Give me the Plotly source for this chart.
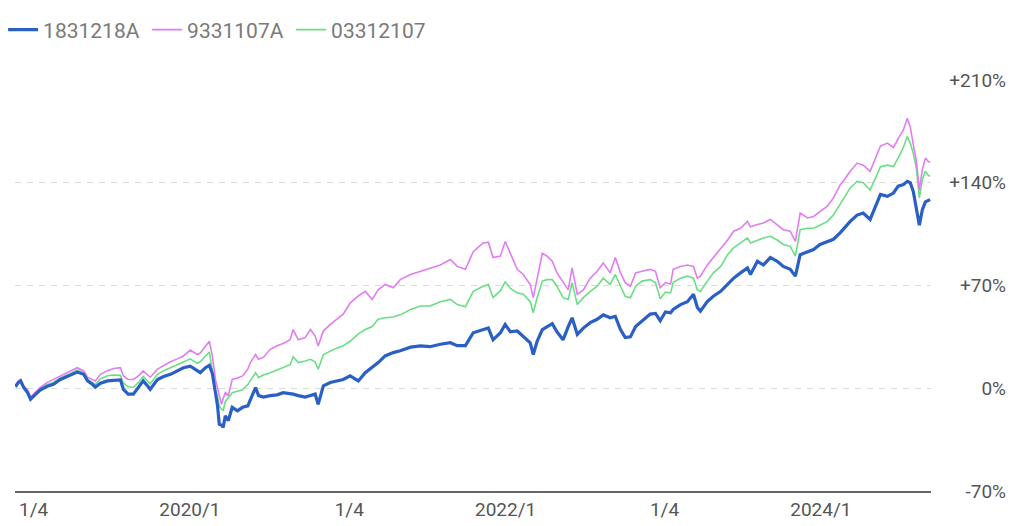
import plotly.graph_objects as go

dates = [
    "2018-11-23", "2018-11-30", "2018-12-05", "2018-12-12", "2018-12-21", "2018-12-28",
    "2019-01-09", "2019-01-20", "2019-02-05", "2019-02-19", "2019-03-07", "2019-03-19",
    "2019-03-31", "2019-04-15", "2019-04-30", "2019-05-09", "2019-05-20", "2019-05-27",
    "2019-06-08", "2019-06-24", "2019-07-08", "2019-07-24", "2019-07-31", "2019-08-11",
    "2019-08-23", "2019-09-04", "2019-09-15", "2019-09-25", "2019-10-01", "2019-10-18",
    "2019-11-01", "2019-11-17", "2019-12-03", "2019-12-17", "2020-01-02", "2020-01-18",
    "2020-01-25", "2020-02-06", "2020-02-15", "2020-02-22", "2020-02-29", "2020-03-05",
    "2020-03-09", "2020-03-14", "2020-03-18", "2020-03-23", "2020-03-30", "2020-04-08",
    "2020-04-20", "2020-05-02", "2020-05-14", "2020-05-20", "2020-06-01", "2020-06-08",
    "2020-06-19", "2020-07-05", "2020-07-21", "2020-08-04", "2020-08-20", "2020-08-27",
    "2020-09-08", "2020-09-24", "2020-10-06", "2020-10-17", "2020-10-24", "2020-11-05",
    "2020-11-21", "2020-12-07", "2020-12-21", "2021-01-06", "2021-01-25", "2021-02-10",
    "2021-02-26", "2021-03-12", "2021-03-28", "2021-04-16", "2021-05-02", "2021-05-26",
    "2021-06-18", "2021-07-10", "2021-08-03", "2021-08-26", "2021-09-11", "2021-09-30",
    "2021-10-18", "2021-11-10", "2021-11-22", "2021-12-03", "2021-12-20", "2021-12-31",
    "2022-01-12", "2022-01-28", "2022-02-11", "2022-02-27", "2022-03-06", "2022-03-15",
    "2022-03-27", "2022-04-07", "2022-04-19", "2022-04-30", "2022-05-14", "2022-05-26",
    "2022-06-04", "2022-06-16", "2022-06-30", "2022-07-16", "2022-08-01", "2022-08-15",
    "2022-08-31", "2022-09-12", "2022-09-24", "2022-10-05", "2022-10-17", "2022-10-29",
    "2022-11-13", "2022-12-02", "2022-12-14", "2022-12-25", "2023-01-06", "2023-01-18",
    "2023-01-24", "2023-02-10", "2023-02-26", "2023-03-12", "2023-03-21", "2023-03-28",
    "2023-04-13", "2023-04-27", "2023-05-14", "2023-05-30", "2023-06-13", "2023-06-29",
    "2023-07-15", "2023-07-22", "2023-08-07", "2023-08-21", "2023-09-06", "2023-09-22",
    "2023-10-06", "2023-10-22", "2023-11-03", "2023-11-14", "2023-12-01", "2023-12-15",
    "2023-12-30", "2024-01-16", "2024-01-30", "2024-02-15", "2024-02-27", "2024-03-09",
    "2024-03-25", "2024-04-08", "2024-04-24", "2024-05-06", "2024-05-18", "2024-06-03",
    "2024-06-17", "2024-06-28", "2024-07-10", "2024-07-19", "2024-07-26", "2024-08-02",
    "2024-08-09", "2024-08-16", "2024-08-23", "2024-08-30", "2024-09-06", "2024-09-10",
]

fund_1831218A = [
    1, 4, 5, 0.5, -3, -7.5,
    -4, -1, 1.4, 2.7, 6, 7.5,
    9, 11, 9.5, 5, 2.7, 0.7,
    3.4, 5, 5.4, 5.7, -0.7, -4,
    -4, 0.7, 5, 1.6, -0.7, 6,
    8, 9.5, 11.8, 14, 15, 12,
    10.6, 14, 15.6, 10, -3, -12,
    -24.5, -25, -26.7, -18.8, -22, -13,
    -15.4, -13, -12, -7.5, 0.5, -5,
    -6, -5, -4.5, -3, -3.4, -4,
    -5, -6, -5, -4, -11, 1.6,
    3.9, 5, 6, 8.4, 5, 10.6,
    14, 17.5, 22, 24.3, 25.5, 28,
    28.8, 28.3, 30, 31, 29, 29,
    37.8, 40, 41, 33, 37.8, 43.5,
    38.5, 39, 35.5, 31, 23, 32,
    40, 42, 44, 38.5, 33, 42,
    48, 36.7, 41, 44.7, 47, 50,
    48, 49, 40, 34.5, 35, 42,
    46, 50.5, 51, 46, 52, 51.4,
    53.7, 57, 59, 64, 55, 52.5,
    59, 62.7, 66, 70.7, 75, 78.6,
    82, 77.5, 86.5, 84, 89, 86.5,
    83, 81, 76.4, 91, 93, 94.5,
    98, 100, 101.5, 106, 110, 113.7,
    118, 119.4, 115, 124, 132, 130.7,
    133, 137.7, 138.7, 141, 140, 134,
    122, 111, 121.7, 127, 128, 128.5,
]

fund_9331107A = [
    2, 5, 6, 1.5, -1, -6,
    -2.5, 0.7, 4, 6, 8, 10,
    11.8, 14, 11.8, 7.5, 6, 5,
    9.5, 12, 13.5, 14, 8.4, 6,
    6, 8.4, 11.8, 9, 7.5, 13,
    15.5, 18, 20, 22, 26, 23,
    24, 28.8, 32, 22, 6, 0,
    -5, -11, -7, -3, -5, 6,
    7, 8.4, 13, 17.5, 23, 19.7,
    21, 26.5, 29, 30.5, 33, 40,
    33, 34.5, 40, 35.5, 28.8, 39,
    43.5, 47, 50.5, 58, 63, 66,
    60.5, 67, 70.7, 68.5, 74, 77.5,
    79.7, 82, 84, 87.7, 83, 81,
    93, 99, 99.5, 89, 90, 100,
    92, 81, 77.5, 70.7, 61.7, 74,
    92, 90, 86.5, 78.6, 71.9, 67,
    82, 64, 67, 75, 79.7, 85.4,
    78.6, 89, 78.6, 71.9, 69.5, 78.6,
    79.7, 81, 79.7, 68.5, 72, 71,
    81, 83, 84, 83, 75, 76.4,
    84, 89, 94.5, 101, 107, 109,
    113.7, 110, 111.5, 112.6, 115, 111.5,
    108, 107, 100, 119.4, 116, 117,
    120, 124, 129.6, 138.7, 143.3, 147.8,
    153.4, 152, 147.8, 156.8, 165, 167,
    164, 170, 176, 184, 178, 166,
    155, 135, 149, 156.8, 154.5, 154,
]

fund_03312107 = [
    1.5, 4.5, 5.5, 1, -2, -7,
    -3, 0, 2.5, 4, 7, 8.5,
    10, 12.5, 10.5, 6, 4, 2.5,
    6.5, 8.5, 9, 8.8, 3.5, 1,
    0.5, 4, 8, 5, 3, 9.5,
    12, 14, 16, 17.5, 20, 17,
    18, 22, 24.7, 12, -2, -6,
    -12, -14, -15.4, -9, -6, -3,
    -2, -1, 2.5, 5, 10.6, 7.3,
    9, 10.6, 12.5, 14, 16, 21.5,
    17.5, 18.5, 19.7, 18, 13, 23,
    25.5, 27.5, 29, 32, 37, 40,
    42, 47, 48, 48.5, 50, 53.7,
    56, 56, 59, 60.5, 57, 55.5,
    66, 69.5, 70.7, 61.7, 66.5, 72.5,
    68, 65, 64, 59, 51.4, 61.7,
    73, 74, 74, 69.5, 61.7, 60.5,
    72, 57, 61.7, 66, 69.5, 75,
    70.7, 77.5, 69.5, 62.7, 61.7, 69.5,
    73, 74, 72, 61, 65.5, 65,
    72, 75, 76.4, 75, 67, 66,
    73, 78.6, 83, 91, 95.6, 99,
    102.4, 99, 101, 102.4, 103.5, 101,
    98, 96.7, 90, 108, 109, 109,
    111, 113.7, 118, 126, 132, 136.5,
    141, 140, 135, 143.3, 151, 152,
    151, 157, 164, 171.5, 167, 160,
    150, 129.6, 142, 147.8, 145, 144.4,
]

x_tick_dates = ["2019-01-04", "2020-01-01", "2021-01-04", "2022-01-01", "2023-01-04", "2024-01-01"]
x_tick_text = ["1/4", "2020/1", "1/4", "2022/1", "1/4", "2024/1"]
y_tick_vals = [-70, 0, 70, 140, 210]
y_tick_text = ["-70%", "0%", "+70%", "+140%", "+210%"]

series = [
    ("03312107", fund_03312107, "#6ade84", 1.6, 3),
    ("9331107A", fund_9331107A, "#e27cf3", 1.6, 2),
    ("1831218A", fund_1831218A, "#2a5fc4", 3.2, 1),
]

fig = go.Figure()
for name, vals, color, w, rank in series:
    fig.add_trace(go.Scatter(
        x=dates, y=vals, name=name, mode="lines",
        line=dict(color=color, width=w),
        legendrank=rank,
    ))

W, H = 1024, 526
ml, mr, mt, mb = 15, 18, 80, 35
plot_w = W - ml - mr
plot_h = H - mt - mb
right_px = 931

fig.update_layout(
    width=W, height=H,
    margin=dict(l=ml, r=mr, t=mt, b=mb, autoexpand=False),
    paper_bgcolor="white", plot_bgcolor="white",
    font=dict(family="Roboto, 'Noto Sans', sans-serif", color="#555555", size=19),
    showlegend=True,
    legend=dict(
        orientation="h", x=-0.012, xanchor="left",
        y=1 + 50 / plot_h, yanchor="middle",
        font=dict(size=21, color="#7a7a7a"),
        entrywidth=99, bgcolor="rgba(0,0,0,0)",
    ),
    xaxis=dict(
        type="date",
        domain=[0, (right_px - ml) / plot_w],
        range=["2018-11-22", "2024-09-12"],
        tickvals=x_tick_dates, ticktext=x_tick_text,
        showgrid=False, zeroline=False,
        showline=True, linecolor="#666666", linewidth=1.5,
        ticks="", tickfont=dict(size=19, color="#555555"),
        fixedrange=True,
    ),
    yaxis=dict(
        range=[-70, 210],
        tickvals=y_tick_vals, ticktext=y_tick_text,
        side="left", anchor="free", position=1.0,
        showgrid=True, gridcolor="#d9d9d9", griddash="6px,6px", gridwidth=1,
        zeroline=False, showline=False, ticks="",
        tickfont=dict(size=19, color="#555555"),
        fixedrange=True,
    ),
)

fig.write_html("out.html")
